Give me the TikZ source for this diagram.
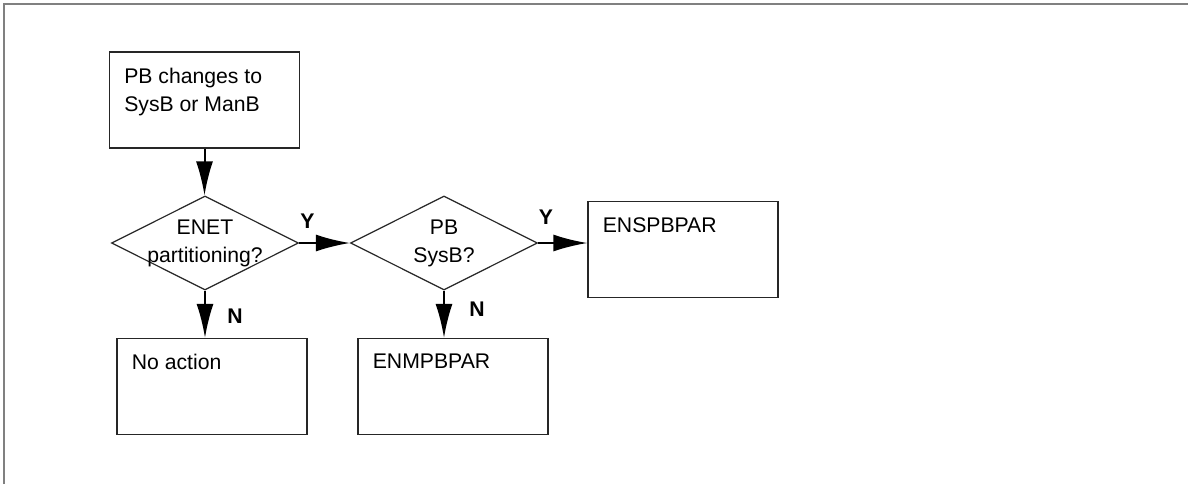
\documentclass[tikz,border=0pt]{standalone}
\usepackage{fontspec}
\setmainfont{Liberation Sans}
\usetikzlibrary{shapes.geometric,arrows.meta}
\begin{document}
\begin{tikzpicture}[x=0.5pt,y=-0.5pt,every node/.style={font=\fontsize{10.6}{14}\selectfont},
  box/.style={draw=black!85,line width=0.6pt,minimum width=95pt,minimum height=48pt,inner sep=0pt},
  boxtext/.style={anchor=north west,inner sep=0pt,align=left,xshift=7.5pt,yshift=-8pt},
  dec/.style={diamond,draw=black!85,line width=0.6pt,minimum width=93.5pt,minimum height=47pt,inner sep=0pt},
  yn/.style={font=\fontsize{10.6}{14}\selectfont\bfseries},
  arr/.style={line width=1pt,-{Latex[length=17pt,width=8.5pt]}}]
\useasboundingbox (0,0) rectangle (1188,484);
\draw[gray,line width=1.2pt] (4,484) -- (4,4) -- (1188,4);
\node[box,label={[boxtext]north west:PB changes to\\SysB or ManB}] (start) at (204.5,100) {};
\node[dec,label={[align=center]center:ENET\\partitioning?}] (enet) at (205,243) {};
\node[dec,label={[align=center]center:PB\\SysB?}] (sysb) at (444,243) {};
\node[box,label={[boxtext]north west:ENSPBPAR}] (enspbpar) at (683,249.5) {};
\node[box,label={[boxtext]north west:No action}] (noaction) at (212,386.5) {};
\node[box,label={[boxtext]north west:ENMPBPAR}] (enmpbpar) at (453,386.5) {};
\draw[arr] (start.south) -- (start.south |- enet.north);
\draw[arr] (enet.east) -- (sysb.west);
\draw[arr] (sysb.east) -- (sysb.east -| enspbpar.west);
\draw[arr] (enet.south) -- (enet.south |- noaction.north);
\draw[arr] (sysb.south) -- (sysb.south |- enmpbpar.north);
\node[yn] (y1) at (307.5,221) {Y};
\node[yn] (y2) at (546,217) {Y};
\node[yn] (n1) at (235,316) {N};
\node[yn] (n2) at (477,309) {N};
\end{tikzpicture}
\end{document}
